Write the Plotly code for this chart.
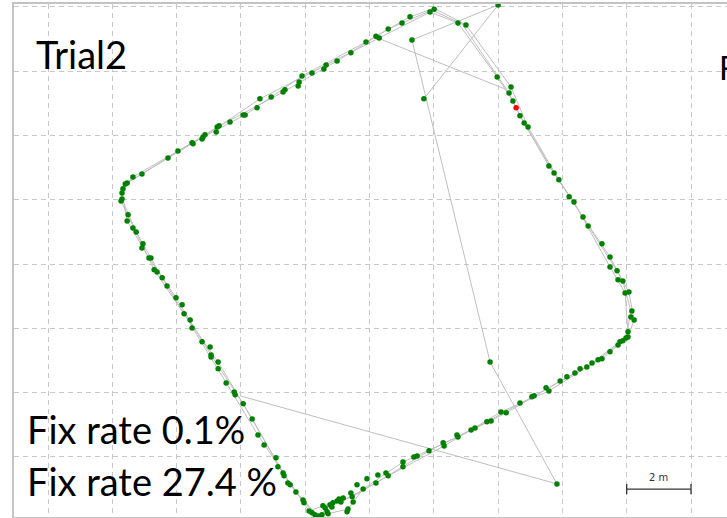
import plotly.graph_objects as go

# ---------------- data (local easting / northing, metres) ----------------
# GNSS fixes along each side of the loop
nw_side_e = [2.27, 2.30, 2.30, 2.33, 2.40, 2.46, 2.64, 2.92, 3.73, 4.04, 4.48, 4.51, 4.82, 4.79,
             4.88, 5.23, 5.26, 5.32, 5.66, 6.07, 6.13, 6.50, 6.59, 6.94, 7.31, 7.37, 7.78, 7.81,
             7.90, 8.21, 8.58, 8.65, 8.99, 9.42, 9.89, 10.20, 10.30, 10.58, 11.01, 11.26, 11.88, 12.01]
nw_side_n = [7.96, 8.02, 8.21, 8.34, 8.49, 8.52, 8.71, 8.80, 9.30, 9.52, 9.77, 9.74, 9.95, 9.89,
             10.02, 10.11, 10.26, 10.30, 10.42, 10.64, 10.64, 10.86, 11.14, 11.20, 11.35, 11.42, 11.54, 11.66,
             11.85, 11.94, 12.07, 12.19, 12.32, 12.57, 12.91, 13.09, 13.03, 13.31, 13.50, 13.69, 13.84, 13.93]

ne_side_e = [12.75, 13.00, 13.97, 14.40, 14.34, 14.46, 14.68, 14.81, 14.93, 15.58, 15.74, 15.89,
             16.21, 16.36, 16.64, 16.80, 17.23, 17.48, 17.48, 17.70, 17.73, 17.88, 17.95, 18.07,
             18.16, 18.13, 18.23, 18.04, 18.04, 17.98, 17.88, 17.79, 17.73]
ne_side_n = [13.50, 13.44, 11.82, 11.51, 11.32, 11.07, 10.61, 10.39, 10.26, 9.05, 8.83, 8.62,
             8.09, 7.93, 7.46, 7.18, 6.63, 6.22, 5.91, 5.79, 5.51, 5.47, 5.10, 5.13,
             4.54, 4.35, 4.26, 3.89, 3.73, 3.70, 3.61, 3.58, 3.48]

se_side_e = [17.48, 17.23, 17.11, 16.92, 16.76, 16.55, 16.39, 16.14, 15.93, 15.58, 15.49, 15.12,
             15.05, 14.68, 14.25, 14.09, 13.78, 13.65, 13.28, 13.16, 12.75, 12.72, 12.32, 12.29,
             11.85, 11.48, 11.38, 11.04, 11.04, 10.58, 10.51, 10.26, 10.20, 9.92, 9.80, 9.61,
             9.49, 9.46, 9.42, 9.33, 9.30, 9.18, 9.11, 9.05, 8.99, 8.86, 8.83, 8.77, 8.71, 8.68,
             8.62, 8.55, 8.52, 8.40, 8.30, 8.21, 8.12]
se_side_n = [3.27, 3.05, 3.02, 2.92, 2.80, 2.74, 2.61, 2.49, 2.36, 2.05, 2.15, 1.90,
             1.87, 1.68, 1.37, 1.40, 1.12, 1.09, 0.90, 0.84, 0.62, 0.68, 0.34, 0.44,
             0.19, 0.03, 0.00, -0.31, -0.16, -0.59, -0.50, -0.56, -0.81, -0.68, -1.00, -0.87,
             -1.40, -1.24, -1.12, -1.62, -1.71, -1.28, -1.40, -1.31, -1.37, -1.43, -1.56, -1.49, -1.77, -1.71,
             -1.59, -1.52, -1.80, -1.84, -1.80, -1.74, -1.68]

sw_side_e = [7.96, 7.93, 7.71, 7.53, 7.46, 7.34, 7.31, 7.15, 7.09, 6.72, 6.53, 6.35, 6.07,
             5.82, 5.79, 5.54, 5.29, 5.29, 5.07, 5.07, 5.04, 4.79, 4.48, 4.42, 4.23, 4.17,
             3.98, 3.70, 3.55, 3.39, 3.30, 3.20, 3.14, 2.92, 2.95, 2.74, 2.64, 2.46, 2.49]
sw_side_n = [-1.43, -1.34, -1.09, -0.87, -0.81, -0.59, -0.50, -0.31, -0.03, 0.37, 0.68, 1.18, 1.65,
             1.93, 2.02, 2.30, 2.74, 2.95, 3.11, 3.17, 3.42, 3.58, 4.01, 4.26, 4.45, 4.73,
             4.95, 5.32, 5.57, 5.75, 5.82, 6.19, 6.19, 6.50, 6.63, 7.00, 7.12, 7.34, 7.53]

outlier_e = [11.32, 11.69, 14.00, 13.75, 15.83]
outlier_n = [12.97, 11.14, 14.06, 2.95, -0.84]

# the single fixed (RTK fix) epoch
fixed_e = [14.56]
fixed_n = [10.86]

# track laps (line between epochs)
lap1_e = [12.01, 13.00, 14.40, 14.93, 15.89, 16.80, 17.70, 18.07, 18.23, 18.04, 17.23, 15.93, 14.25,
          12.75, 11.04, 9.80, 9.33, 8.71, 8.30, 7.53, 6.35, 5.29, 4.23, 3.30, 2.49, 2.27, 2.33, 2.64,
          4.48, 6.13, 7.90, 9.89, 11.26, 12.01]
lap1_n = [13.96, 13.44, 11.51, 10.26, 8.62, 7.18, 5.79, 5.13, 4.26, 3.73, 3.05, 2.36, 1.37,
          0.62, -0.16, -1.00, -1.62, -1.77, -1.80, -0.87, 1.18, 2.95, 4.45, 5.82, 7.53, 7.96, 8.37, 8.71,
          9.77, 10.64, 11.85, 12.91, 13.69, 13.96]
lap2_e = [11.88, 12.75, 13.97, 14.46, 14.81, 15.74, 16.64, 17.48, 17.88, 18.13, 17.98, 17.11, 15.58,
          14.09, 12.32, 10.58, 9.46, 8.99, 8.40, 7.71, 6.53, 5.54, 4.48, 3.55, 2.74, 2.30, 2.40, 2.92,
          4.82, 6.59, 8.65, 10.30, 11.88]
lap2_n = [13.84, 13.50, 11.82, 11.07, 10.39, 8.83, 7.46, 6.22, 5.47, 4.54, 3.70, 3.02, 2.05,
          1.40, 0.34, -0.59, -1.24, -1.37, -1.84, -1.09, 0.68, 2.30, 4.01, 5.57, 7.00, 8.02, 8.49, 8.80,
          9.95, 11.14, 12.19, 13.03, 13.84]
lap3_e = [11.94, 12.88, 14.34, 14.68, 15.58, 16.36, 17.48, 17.95, 18.04, 17.79, 16.76, 15.12, 13.65,
          11.85, 10.20, 9.11, 8.55, 8.12, 7.31, 6.07, 5.07, 3.98, 3.14, 2.46, 2.30, 2.46, 3.73,
          5.26, 7.31, 8.99, 10.58, 11.94]
lap3_n = [13.90, 13.47, 11.32, 10.61, 9.05, 7.93, 5.91, 5.10, 3.89, 3.58, 2.80, 1.90, 1.09,
          0.19, -0.81, -1.40, -1.52, -1.68, -0.50, 1.65, 3.17, 4.95, 6.19, 7.34, 8.21, 8.52, 9.30,
          10.26, 11.35, 12.32, 13.31, 13.90]
jump1_e = [11.69, 14.00, 11.32, 13.75, 15.83, 5.97]
jump1_n = [11.14, 14.06, 12.97, 2.95, -0.84, 1.90]
jump2_e = [10.26, 14.28]
jump2_n = [13.03, 11.42]

SCALE_BAR_M = 2
GRID_M = 2

# ---------------- build ----------------
track_e, track_n = [], []
for es, ns in [(jump1_e, jump1_n), (lap1_e, lap1_n), (lap2_e, lap2_n), (lap3_e, lap3_n), (jump2_e, jump2_n)]:
    track_e += es + [None]
    track_n += ns + [None]

float_e = nw_side_e + ne_side_e + se_side_e + sw_side_e + outlier_e
float_n = nw_side_n + ne_side_n + se_side_n + sw_side_n + outlier_n

fig = go.Figure()
fig.add_trace(go.Scatter(x=track_e, y=track_n, mode="lines",
                         line=dict(color="#bfbfbf", width=1), hoverinfo="skip"))
fig.add_trace(go.Scatter(x=float_e, y=float_n, mode="markers",
                         marker=dict(color="#008000", size=5.5, line=dict(width=0))))
fig.add_trace(go.Scatter(x=fixed_e, y=fixed_n, mode="markers",
                         marker=dict(color="#ff0000", size=5.5, line=dict(width=0))))

# scale bar
sb_x0, sb_y, tick = 18.0, -1.0, 0.16
sb_x1 = sb_x0 + SCALE_BAR_M
fig.add_trace(go.Scatter(x=[sb_x0, sb_x0, None, sb_x0, sb_x1, None, sb_x1, sb_x1],
                         y=[sb_y + tick, sb_y - tick, None, sb_y, sb_y, None, sb_y + tick, sb_y - tick],
                         mode="lines", line=dict(color="#333333", width=1.3), hoverinfo="skip"))
fig.add_annotation(x=(sb_x0 + sb_x1) / 2, y=sb_y + 0.36, text=f"{SCALE_BAR_M} m", showarrow=False,
                   font=dict(family="DejaVu Sans", size=10, color="#333333"), yanchor="middle")

big = dict(family="Lato", color="#000000")
fig.add_annotation(xref="paper", yref="paper", x=0.028, y=0.903, text="Trial2", showarrow=False,
                   xanchor="left", yanchor="middle", font=dict(size=38, **big))
fig.add_annotation(xref="paper", yref="paper", x=0.016, y=0.1715, text="Fix rate 0.1%", showarrow=False,
                   xanchor="left", yanchor="middle", font=dict(size=38, **big))
fig.add_annotation(xref="paper", yref="paper", x=0.016, y=0.0702, text="Fix rate 27.4 %", showarrow=False,
                   xanchor="left", yanchor="middle", font=dict(size=38, **big))
fig.add_annotation(xref="paper", yref="paper", x=0.986, y=0.876, text="F", showarrow=False,
                   xanchor="left", yanchor="middle", font=dict(size=32, **big))

grid = dict(showgrid=True, gridcolor="#c8c8c8", gridwidth=1, griddash="5px,4px",
            zeroline=False, showticklabels=False, ticks="", dtick=GRID_M, tick0=0,
            showline=True, linecolor="#c4c4c4", linewidth=2)
fig.update_xaxes(range=[-1.06, 21.12], mirror=True, **grid)
fig.update_yaxes(range=[-1.87, 14.09], mirror=False, **grid)

fig.update_layout(width=727, height=518, margin=dict(l=14, r=0, t=4, b=1),
                  paper_bgcolor="white", plot_bgcolor="white", showlegend=False,
                  hovermode=False)

fig.write_html("out.html", config={"displayModeBar": False})
